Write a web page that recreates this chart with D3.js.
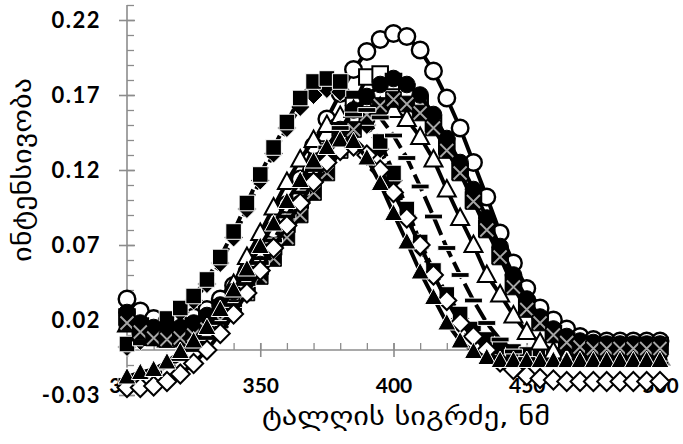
<!DOCTYPE html>
<html><head><meta charset="utf-8">
<script src="https://cdn.jsdelivr.net/npm/d3@7"></script>
<style>body{margin:0;background:#fff}svg{display:block}</style>
</head><body>
<svg id="c" width="683" height="444"></svg>
<script>
const wavelength = [300,305,310,315,320,325,330,335,340,345,350,355,360,365,370,375,380,385,390,395,400,405,410,415,420,425,430,435,440,445,450,455,460,465,470,475,480,485,490,495,500];

const openCircle = [0.034,0.026,0.021,0.019,0.019,0.022,0.027,0.034,0.043,0.052,0.064,0.080,0.097,0.114,0.136,0.154,0.171,0.187,0.199,0.207,0.211,0.209,0.200,0.186,0.168,0.148,0.125,0.102,0.078,0.058,0.041,0.028,0.020,0.014,0.009,0.007,0.006,0.006,0.006,0.006,0.006];
const filledSquare = [0.004,0.008,0.014,0.021,0.028,0.036,0.047,0.062,0.079,0.098,0.117,0.135,0.152,0.168,0.179,0.181,0.179,0.168,0.155,0.139,0.118,0.094,0.072,0.053,0.037,0.024,0.014,0.007,0.002,-0.001,-0.003,-0.003,-0.003,-0.003,-0.003,-0.003,-0.003,-0.003,-0.003,-0.003,-0.003];
const filledDiamond = [0.002,0.006,0.011,0.018,0.025,0.033,0.044,0.058,0.075,0.094,0.113,0.131,0.148,0.162,0.170,0.174,0.172,0.163,0.150,0.134,0.113,0.090,0.068,0.049,0.034,0.021,0.011,0.005,0.000,-0.002,-0.003,-0.003,-0.003,-0.003,-0.003,-0.003,-0.003,-0.003,-0.003,-0.003,-0.003];
const openSquare = [0.022,0.016,0.013,0.012,0.013,0.016,0.021,0.028,0.036,0.045,0.056,0.069,0.084,0.100,0.117,0.134,0.148,0.163,0.182,0.184,0.179,0.172,0.164,0.151,0.136,0.119,0.100,0.081,0.063,0.045,0.030,0.019,0.011,0.006,0.004,0.003,0.003,0.003,0.003,0.003,0.003];
const filledCircle = [0.025,0.018,0.015,0.015,0.015,0.018,0.023,0.030,0.039,0.046,0.057,0.068,0.082,0.098,0.115,0.133,0.147,0.160,0.169,0.177,0.181,0.177,0.170,0.157,0.141,0.125,0.107,0.088,0.069,0.050,0.034,0.022,0.014,0.009,0.006,0.005,0.004,0.004,0.004,0.004,0.004];
const crossSquare = [0.018,0.012,0.008,0.007,0.008,0.010,0.014,0.020,0.028,0.038,0.049,0.061,0.075,0.090,0.105,0.118,0.133,0.147,0.157,0.163,0.167,0.164,0.158,0.148,0.133,0.118,0.099,0.080,0.062,0.042,0.027,0.018,0.010,0.005,0.002,0.001,0.001,0.001,0.001,0.001,0.001];
const openTriangle = [0.017,0.011,0.008,0.007,0.008,0.011,0.016,0.024,0.044,0.062,0.078,0.095,0.112,0.127,0.140,0.150,0.156,0.160,0.162,0.162,0.160,0.154,0.142,0.127,0.107,0.088,0.070,0.050,0.037,0.023,0.012,0.005,-0.001,-0.004,-0.005,-0.005,-0.005,-0.005,-0.005,-0.005,-0.005];
const dashMark = [-0.020,-0.018,-0.015,-0.011,-0.006,0.000,0.008,0.018,0.030,0.044,0.058,0.073,0.089,0.105,0.120,0.135,0.148,0.157,0.160,0.155,0.143,0.128,0.109,0.089,0.068,0.050,0.033,0.018,0.007,-0.001,-0.006,-0.008,-0.009,-0.009,-0.009,-0.009,-0.009,-0.009,-0.009,-0.009,-0.009];
const openDiamond = [-0.025,-0.025,-0.024,-0.021,-0.016,-0.009,0.000,0.011,0.024,0.038,0.053,0.068,0.083,0.098,0.112,0.125,0.133,0.136,0.130,0.120,0.105,0.088,0.070,0.050,0.033,0.018,0.009,0.000,-0.008,-0.013,-0.017,-0.019,-0.020,-0.021,-0.021,-0.021,-0.021,-0.021,-0.021,-0.021,-0.021];
const filledTriangle = [-0.018,-0.015,-0.013,-0.008,-0.001,0.006,0.015,0.027,0.040,0.054,0.069,0.084,0.099,0.113,0.126,0.135,0.140,0.139,0.128,0.111,0.091,0.072,0.052,0.035,0.018,0.006,-0.001,-0.005,-0.007,-0.007,-0.007,-0.007,-0.007,-0.007,-0.007,-0.007,-0.007,-0.007,-0.007,-0.007,-0.007];

const xTicks = [300,350,400,450,500];
const yTicks = [-0.03,0.02,0.07,0.12,0.17,0.22];
const xTitle = "ტალღის სიგრძე, ნმ";
const yTitle = "ინტენსივობა";

const svg = d3.select("#c");
const x = d3.scaleLinear().domain([300,500]).range([127,660]);
const y = d3.scaleLinear().domain([-0.03,0.23]).range([395,5]);
const axisColor = "#8c8c8c";
const tickFont = "Lato, 'Open Sans', sans-serif";

// minor ticks
const yMinor = d3.range(-3,24).map(d=>d/100);
const xMinor = d3.range(300,501,10);
svg.append("g").attr("transform",`translate(${x(300)},0)`)
  .call(d3.axisRight(y).tickValues(yMinor).tickSize(7).tickFormat(""))
  .call(g=>{g.select(".domain").remove();g.selectAll("line").attr("stroke",axisColor).attr("stroke-width",1.3);});
svg.append("g").attr("transform",`translate(0,${y(0)})`)
  .call(d3.axisTop(x).tickValues(xMinor).tickSize(7).tickFormat(""))
  .call(g=>{g.select(".domain").remove();g.selectAll("line").attr("stroke",axisColor).attr("stroke-width",1.3);});

// y axis
const fmt = d3.format(".2f");
const gy = svg.append("g").attr("transform",`translate(${x(300)},0)`)
  .call(d3.axisLeft(y).tickValues(yTicks).tickFormat(d=>fmt(d).replace("\u2212","-")).tickSizeOuter(0));
gy.select(".domain").attr("stroke",axisColor).attr("stroke-width",1.6).attr("d",`M0,${y(0.23)}V${y(-0.03)}`);
gy.selectAll(".tick line").attr("stroke",axisColor).attr("stroke-width",1.6).attr("x1",8).attr("x2",-8);
gy.selectAll(".tick text").attr("x",-26).attr("dy","0.36em").attr("font-family",tickFont).attr("font-weight","bold")
  .attr("font-size",22).attr("fill","#000").attr("letter-spacing",1.5);

// x axis
const gx = svg.append("g").attr("transform",`translate(0,${y(0)})`)
  .call(d3.axisBottom(x).tickValues(xTicks).tickSizeOuter(0));
gx.select(".domain").attr("stroke",axisColor).attr("stroke-width",1.6).attr("d",`M${x(300)},0H${x(500)}`);
gx.selectAll(".tick line").attr("stroke",axisColor).attr("stroke-width",1.6).attr("y1",-7).attr("y2",7);
gx.selectAll(".tick text").attr("y",35).attr("dy","0.36em").attr("font-family",tickFont).attr("font-weight","bold")
  .attr("font-size",21).attr("fill","#000");

// titles
svg.append("text").attr("x",406).attr("y",416).attr("dy","0.35em").attr("text-anchor","middle")
  .attr("font-family","'DejaVu Sans', sans-serif").attr("font-size",25)
  .attr("textLength",288).attr("lengthAdjust","spacingAndGlyphs").text(xTitle);
svg.append("text").attr("transform","translate(22,170) rotate(-90)").attr("dy","0.35em").attr("text-anchor","middle")
  .attr("font-family","'DejaVu Sans', sans-serif").attr("font-size",25)
  .attr("textLength",184).attr("lengthAdjust","spacingAndGlyphs").text(yTitle);

// markers
function markerPath(type){
  switch(type){
    case "circle": return "M-8.3,0A8.3,8.3 0 1,0 8.3,0A8.3,8.3 0 1,0 -8.3,0Z";
    case "square": return "M-7.8,-7.8H7.8V7.8H-7.8Z";
    case "triangle": return "M0,-9.5L9,7L-9,7Z";
    case "diamond": return "M0,-9.5L9.5,0L0,9.5L-9.5,0Z";
    case "dash": return "M-9,-2.4H9V2.4H-9Z";
  }
}
const series = [
  {data: openCircle, marker:"circle", fill:"#fff", stroke:"#000", sw:2.4, dash:null},
  {data: filledDiamond, marker:"diamond", fill:"#000", stroke:"#fff", sw:1, dash:"10,5"},
  {data: filledSquare, marker:"square", fill:"#000", stroke:"#fff", sw:1, dash:"10,5"},
  {data: openSquare, marker:"square", fill:"#fff", stroke:"#000", sw:2, dash:null},
  {data: openTriangle, marker:"triangle", fill:"#fff", stroke:"#000", sw:2, dash:null},
  {data: filledCircle, marker:"circle", fill:"#000", stroke:"#000", sw:1, dash:null},
  {data: crossSquare, marker:"square", fill:"#000", stroke:"#000", sw:1, dash:null, cross:true},
  {data: dashMark, marker:"dash", fill:"#000", stroke:"#fff", sw:1, dash:"18,6"},
  {data: openDiamond, marker:"diamond", fill:"#fff", stroke:"#000", sw:2, dash:null},
  {data: filledTriangle, marker:"triangle", fill:"#000", stroke:"#fff", sw:1, dash:null}
];
const line = d3.line().x(d=>x(d[0])).y(d=>y(d[1]));
series.forEach(s=>{
  const pts = wavelength.map((w,i)=>[w,s.data[i]]);
  const g = svg.append("g");
  g.append("path").attr("d",line(pts)).attr("fill","none").attr("stroke","#000")
    .attr("stroke-width",4).attr("stroke-dasharray",s.dash);
  const m = g.selectAll("g.m").data(pts).join("g").attr("class","m")
    .attr("transform",d=>`translate(${x(d[0])},${y(d[1])})`);
  m.append("path").attr("d",markerPath(s.marker)).attr("fill",s.fill).attr("stroke",s.stroke).attr("stroke-width",s.sw);
  if(s.cross){
    m.append("path").attr("d","M-6.5,-6.5L6.5,6.5M6.5,-6.5L-6.5,6.5").attr("stroke","#a6a6a6").attr("stroke-width",1.8);
  }
});
</script>
</body></html>
